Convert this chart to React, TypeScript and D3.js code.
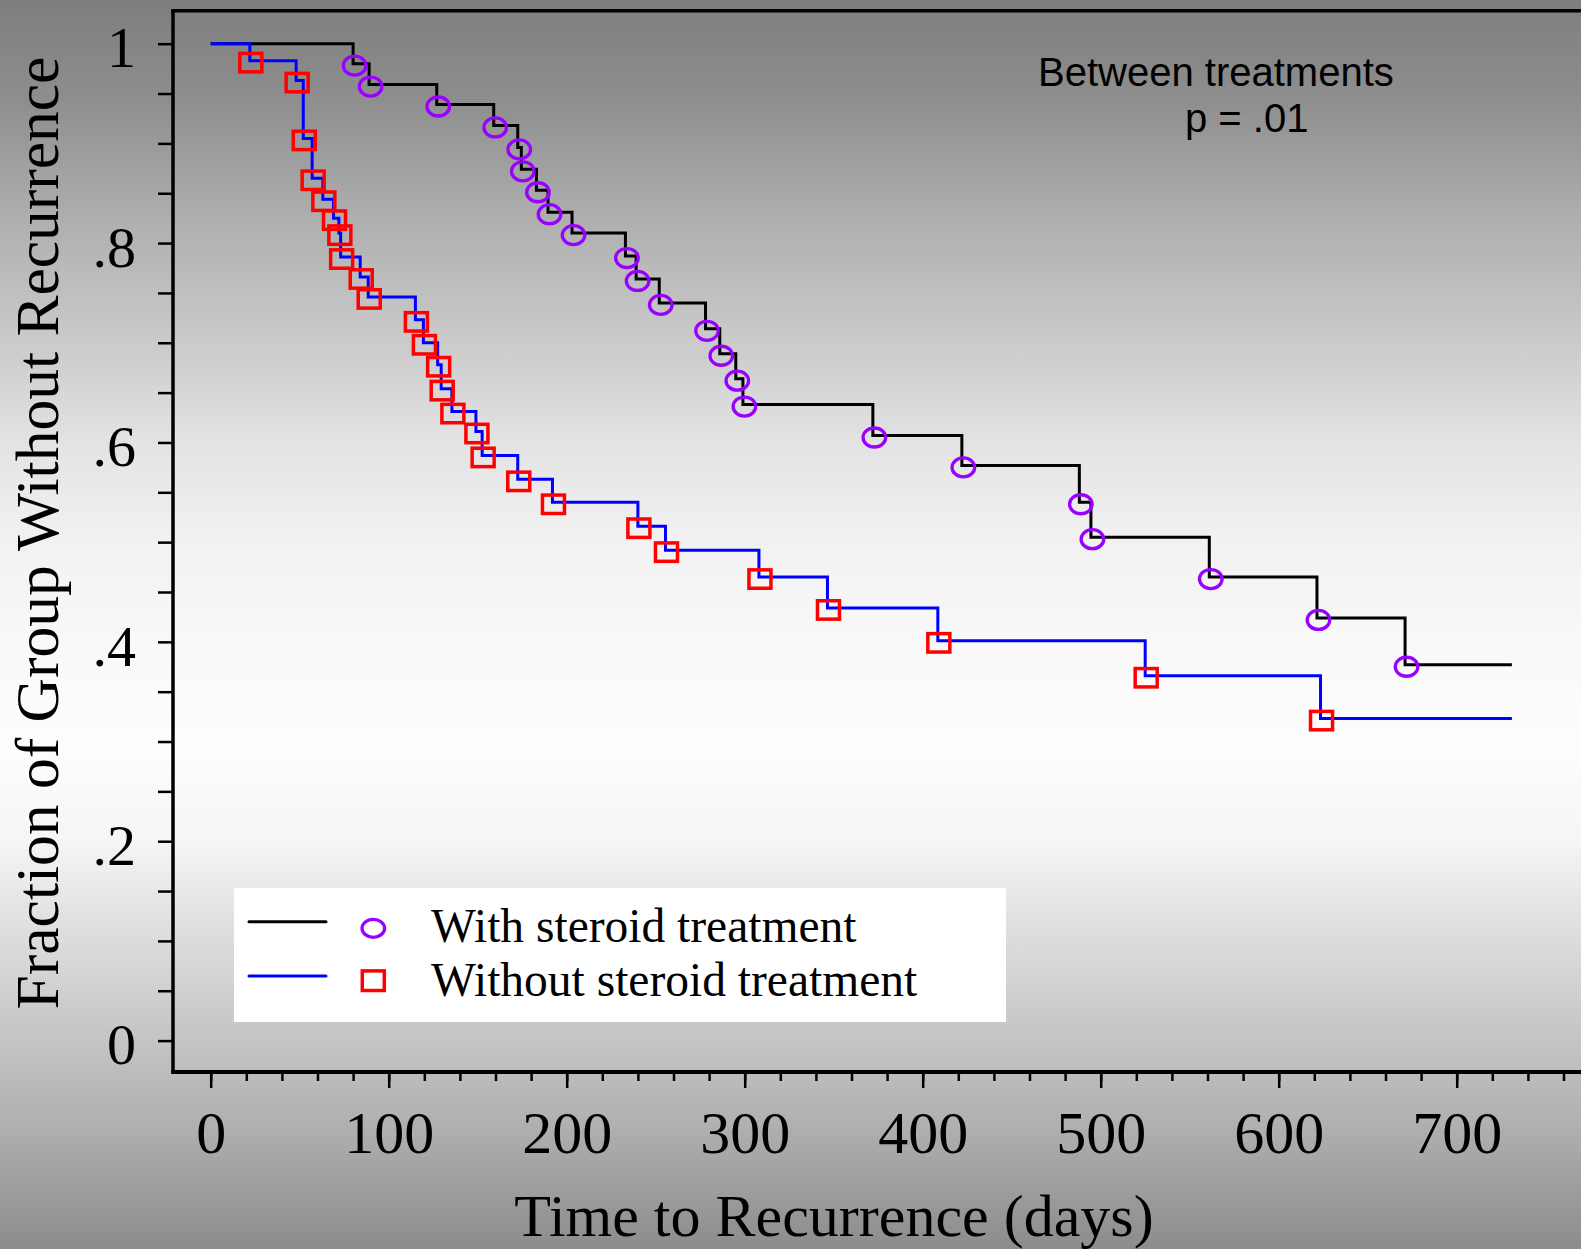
import { useEffect, useRef } from 'react';
import * as d3 from 'd3';

// Kaplan-Meier steps: event time (days) and survival after the drop
const steroidTimes = [80, 89, 127, 159, 172.5, 174.5, 183, 189.5, 203, 233, 239, 252, 278, 286, 295, 299, 372, 422, 488, 494.5, 561, 621.5, 671];
const steroidSurvival = [0.98, 0.959, 0.939, 0.918, 0.896, 0.874, 0.853, 0.831, 0.81, 0.787, 0.764, 0.74, 0.714, 0.689, 0.664, 0.638, 0.607, 0.577, 0.54, 0.505, 0.465, 0.424, 0.377];

const noSteroidTimes = [22, 48, 52, 57, 63, 69, 72, 73, 84, 88.5, 115, 119.5, 127.5, 129.5, 135.5, 149, 152.5, 172.5, 192, 240, 255.5, 308, 346.5, 408.5, 525, 623.5];
const noSteroidSurvival = [0.983, 0.963, 0.905, 0.865, 0.844, 0.825, 0.81, 0.786, 0.766, 0.746, 0.723, 0.7, 0.678, 0.654, 0.631, 0.611, 0.587, 0.563, 0.54, 0.516, 0.492, 0.465, 0.434, 0.401, 0.366, 0.323];

const followUpEnd = 731;

const xMajorTicks = [0, 100, 200, 300, 400, 500, 600, 700];
const xMinorTicks = d3.range(0, 761, 20);
const yMajorTicks = [0, 0.2, 0.4, 0.6, 0.8, 1];
const yMinorTicks = d3.range(0, 21).map(i => i / 20);

const legendLabels = ['With steroid treatment', 'Without steroid treatment'];
const noteLines = ['Between treatments', 'p = .01'];

const WIDTH = 1581;
const HEIGHT = 1249;
const SERIF = '"Liberation Serif", "Times New Roman", Times, serif';
const SANS = '"Liberation Sans", Arial, Helvetica, sans-serif';

function SurvivalChart() {
  const svgRef = useRef<SVGSVGElement>(null);

  useEffect(() => {
    const svg = d3.select(svgRef.current)
      .attr('width', WIDTH)
      .attr('height', HEIGHT);

    svg.selectAll('*').remove();

    // background: grey -> white -> grey, top to bottom
    const defs = svg.append('defs');
    const grad = defs.append('linearGradient')
      .attr('id', 'bgGrad')
      .attr('x1', 0).attr('y1', 0).attr('x2', 0).attr('y2', 1);
    const stops: [number, number][] = [
      [0, 126], [0.08, 142], [0.18, 176], [0.28, 204], [0.35, 226], [0.43, 241],
      [0.52, 249], [0.6, 253], [0.67, 246], [0.72, 230], [0.82, 200], [0.9, 176], [1, 140],
    ];
    stops.forEach(([o, g]) => {
      grad.append('stop').attr('offset', o).attr('stop-color', d3.rgb(g, g, g).formatHex());
    });
    svg.append('rect')
      .attr('width', WIDTH)
      .attr('height', HEIGHT)
      .attr('fill', 'url(#bgGrad)');

    const x = d3.scaleLinear().domain([0, 700]).range([210.7, 1456.7]);
    const y = d3.scaleLinear().domain([0, 1]).range([1040.6, 43.7]);

    const axisX = 173;
    const axisY = 1072;
    const frameTop = 10.7;

    // y ticks
    const yTicks = svg.append('g').attr('transform', `translate(${axisX},0)`);
    yTicks.call(d3.axisLeft(y).tickValues(yMinorTicks).tickSize(15).tickFormat(() => ''));
    yTicks.select('.domain').remove();
    yTicks.selectAll('line').attr('stroke', '#000').attr('stroke-width', 2.5);

    const yLabels = svg.append('g').attr('transform', `translate(${axisX},0)`);
    yLabels.call(
      d3.axisLeft(y)
        .tickValues(yMajorTicks)
        .tickSize(0)
        .tickPadding(37)
        .tickFormat(d => {
          const v = +d;
          if (v === 0) return '0';
          if (v === 1) return '1';
          return v.toFixed(1).replace(/^0/, '');
        }),
    );
    yLabels.select('.domain').remove();
    yLabels.selectAll('text')
      .attr('dy', '0.4em')
      .attr('font-family', SERIF)
      .attr('font-size', 58)
      .attr('fill', '#000');

    // x ticks
    const xTicksMinor = svg.append('g').attr('transform', `translate(0,${axisY})`);
    xTicksMinor.call(d3.axisBottom(x).tickValues(xMinorTicks).tickSize(9).tickFormat(() => ''));
    xTicksMinor.select('.domain').remove();
    xTicksMinor.selectAll('line').attr('stroke', '#000').attr('stroke-width', 2.5);

    const xTicksMajor = svg.append('g').attr('transform', `translate(0,${axisY})`);
    xTicksMajor.call(d3.axisBottom(x).tickValues(xMajorTicks).tickSize(16).tickPadding(22).tickFormat(d3.format('d')));
    xTicksMajor.select('.domain').remove();
    xTicksMajor.selectAll('line').attr('stroke', '#000').attr('stroke-width', 2.5);
    xTicksMajor.selectAll('text')
      .attr('font-family', SERIF)
      .attr('font-size', 60)
      .attr('fill', '#000');

    // frame lines
    svg.append('line')
      .attr('x1', axisX).attr('x2', axisX)
      .attr('y1', frameTop - 1.5).attr('y2', axisY + 2)
      .attr('stroke', '#000').attr('stroke-width', 3.5);
    svg.append('line')
      .attr('x1', axisX - 1.5).attr('x2', WIDTH)
      .attr('y1', frameTop).attr('y2', frameTop)
      .attr('stroke', '#000').attr('stroke-width', 3.5);
    svg.append('line')
      .attr('x1', axisX - 1.5).attr('x2', WIDTH)
      .attr('y1', axisY).attr('y2', axisY)
      .attr('stroke', '#000').attr('stroke-width', 3.8);

    // curves
    const toSteps = (times: number[], surv: number[]) => [
      { t: 0, s: 1 },
      ...times.map((t, i) => ({ t, s: surv[i] })),
      { t: followUpEnd, s: surv[surv.length - 1] },
    ];
    const steroidPts = toSteps(steroidTimes, steroidSurvival);
    const noSteroidPts = toSteps(noSteroidTimes, noSteroidSurvival);

    const line = d3.line<{ t: number; s: number }>()
      .x(d => x(d.t))
      .y(d => y(d.s))
      .curve(d3.curveStepAfter);

    svg.append('path')
      .datum(steroidPts)
      .attr('d', line)
      .attr('fill', 'none')
      .attr('stroke', '#000')
      .attr('stroke-width', 3);

    svg.append('path')
      .datum(noSteroidPts)
      .attr('d', line)
      .attr('fill', 'none')
      .attr('stroke', '#0000ff')
      .attr('stroke-width', 3);

    const steroidEvents = steroidTimes.map((t, i) => ({ t, s: steroidSurvival[i] }));
    const noSteroidEvents = noSteroidTimes.map((t, i) => ({ t, s: noSteroidSurvival[i] }));

    svg.append('g')
      .selectAll('ellipse')
      .data(steroidEvents)
      .join('ellipse')
      .attr('cx', d => x(d.t) + 1.5)
      .attr('cy', d => y(d.s) + 2)
      .attr('rx', 11.3)
      .attr('ry', 9.5)
      .attr('fill', 'none')
      .attr('stroke', '#9900ff')
      .attr('stroke-width', 3.3);

    svg.append('g')
      .selectAll('rect')
      .data(noSteroidEvents)
      .join('rect')
      .attr('x', d => x(d.t) + 1 - 11)
      .attr('y', d => y(d.s) + 2 - 9.2)
      .attr('width', 22)
      .attr('height', 18.4)
      .attr('fill', 'none')
      .attr('stroke', '#ff0000')
      .attr('stroke-width', 3.5);

    // axis titles
    svg.append('text')
      .attr('x', 834)
      .attr('y', 1236)
      .attr('text-anchor', 'middle')
      .attr('font-family', SERIF)
      .attr('font-size', 60)
      .attr('fill', '#000')
      .text('Time to Recurrence (days)');

    svg.append('text')
      .attr('transform', 'translate(58,533) rotate(-90)')
      .attr('text-anchor', 'middle')
      .attr('font-family', SERIF)
      .attr('font-size', 61.5)
      .attr('fill', '#000')
      .text('Fraction of Group Without Recurrence');

    // note
    svg.append('text')
      .attr('x', 1038).attr('y', 86)
      .attr('font-family', SANS).attr('font-size', 40).attr('fill', '#000')
      .text(noteLines[0]);
    svg.append('text')
      .attr('x', 1185).attr('y', 132)
      .attr('font-family', SANS).attr('font-size', 40).attr('fill', '#000')
      .text(noteLines[1]);

    // legend
    const legend = svg.append('g');
    legend.append('rect')
      .attr('x', 234).attr('y', 888)
      .attr('width', 772).attr('height', 134)
      .attr('fill', '#fff');
    const rowY = [921.7, 976];
    const rowColors = ['#000', '#0000ff'];
    rowY.forEach((ry, i) => {
      legend.append('line')
        .attr('x1', 249).attr('x2', 326)
        .attr('y1', ry).attr('y2', ry)
        .attr('stroke', rowColors[i]).attr('stroke-width', 3)
        .attr('stroke-linecap', 'round');
    });
    legend.append('ellipse')
      .attr('cx', 373.3).attr('cy', 928.3)
      .attr('rx', 11.3).attr('ry', 9)
      .attr('fill', 'none').attr('stroke', '#9900ff').attr('stroke-width', 3.3);
    legend.append('rect')
      .attr('x', 373.3 - 11).attr('y', 980.7 - 9.8)
      .attr('width', 22).attr('height', 19.6)
      .attr('fill', 'none').attr('stroke', '#ff0000').attr('stroke-width', 3.5);
    const textY = [942, 996];
    legendLabels.forEach((label, i) => {
      legend.append('text')
        .attr('x', 431).attr('y', textY[i])
        .attr('font-family', SERIF).attr('font-size', 47.5).attr('fill', '#000')
        .text(label);
    });
  }, []);

  return <svg ref={svgRef} style={{ position: 'absolute', left: 0, top: 0, display: 'block' }}></svg>;
}

export default function App() {
  return <SurvivalChart />;
}
